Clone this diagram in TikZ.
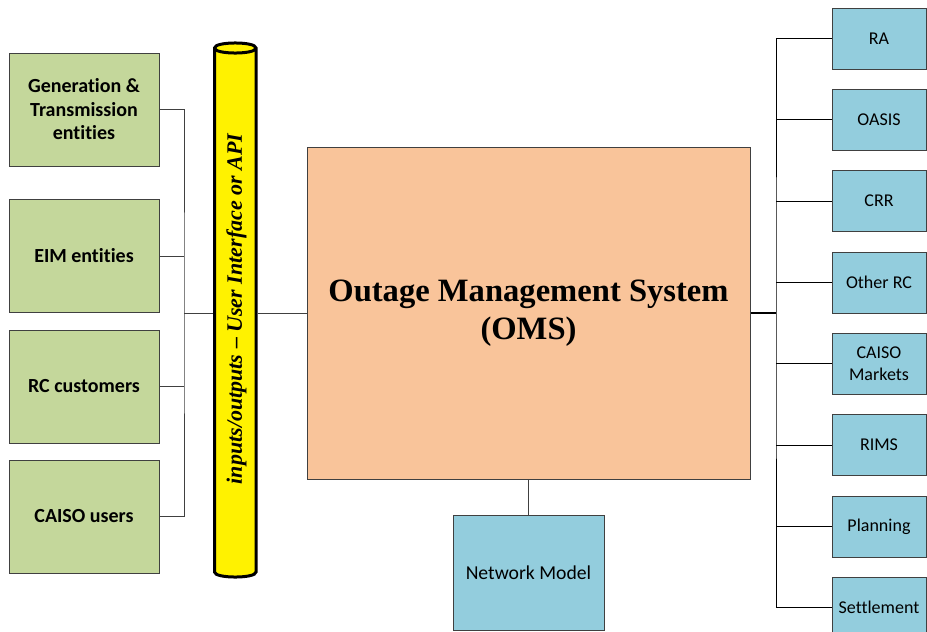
\documentclass[tikz,border=0pt]{standalone}
\usepackage{fontspec}
\setmainfont{Liberation Serif}
\newfontfamily\calfont[Ligatures=NoCommon]{Carlito}
\definecolor{gbox}{HTML}{C4D79B}
\definecolor{bbox}{HTML}{93CDDD}
\definecolor{pbox}{HTML}{F9C49A}
\definecolor{edge}{HTML}{404040}
\tikzset{
  greenbox/.style={draw=edge, line width=1pt, fill=gbox, minimum width=150pt, minimum height=113pt, inner sep=0pt, align=center, font=\calfont\bfseries\fontsize{20}{23.5}\selectfont},
  bluebox/.style={draw=edge, line width=1pt, fill=bbox, minimum width=94pt, minimum height=61pt, inner sep=0pt, align=center, font=\calfont\fontsize{18}{21.5}\selectfont},
  conn/.style={draw=edge, line width=1pt},
  cyl/.style={draw=black, line width=3pt, fill=yellow},
}
\begin{document}
\begin{tikzpicture}[x=1pt,y=-1pt]
\useasboundingbox (0,0) rectangle (927,632);
% left boxes
\node[greenbox] (g1) at (84,109.5) {Generation \&\\Transmission\\entities};
\node[greenbox] (g2) at (84,256) {EIM entities};
\node[greenbox] (g3) at (84,386.5) {RC customers};
\node[greenbox] (g4) at (84,516.5) {CAISO users};
\coordinate (lb) at (184,313);
% cylinder
\filldraw[cyl] (214.5,48) -- (214.5,572) .. controls (214.5,578.7) and (256,578.7) .. (256,572) -- (256,48) .. controls (256,41.3) and (214.5,41.3) .. (214.5,48) -- cycle;
\draw[cyl] (214.5,48) .. controls (214.5,54.7) and (256,54.7) .. (256,48);
\node[rotate=90, inner sep=0pt, font=\bfseries\itshape\fontsize{22}{26}\selectfont] (io) at (236.5,309) {inputs/outputs -- User Interface or API};
\coordinate (cylL) at (213,313);
\coordinate (cylR) at (257.5,313);
% OMS
\node[draw=edge, line width=1pt, fill=pbox, minimum width=443pt, minimum height=332pt, inner sep=0pt, align=center, font=\bfseries\fontsize{32.6}{38}\selectfont] (oms) at (528.5,313) {Outage Management System\\(OMS)};
\node[bluebox, minimum width=151pt, minimum height=115pt, font=\calfont\fontsize{19.7}{23}\selectfont] (nm) at (528.5,573) {Network Model};
% right boxes
\node[bluebox] (r1) at (879,38.5) {RA};
\node[bluebox] (r2) at (879,119.5) {OASIS};
\node[bluebox] (r3) at (879,201) {CRR};
\node[bluebox] (r4) at (879,282.5) {Other RC};
\node[bluebox] (r5) at (879,363.5) {CAISO\\Markets};
\node[bluebox] (r6) at (879,445) {RIMS};
\node[bluebox] (r7) at (879,526.5) {Planning};
\node[bluebox] (r8) at (879,607.5) {Settlement};
\coordinate (rb) at (776,313);
% connectors left
\draw[conn] (g1.east) -| (lb) |- (g4.east);
\draw[conn] (g2.east) -- (g2.east -| lb);
\draw[conn] (g3.east) -- (g3.east -| lb);
\draw[conn] (lb) -- (cylL);
\draw[conn] (cylR) -- (oms.west);
\draw[conn] (oms.south) -- (nm.north);
% connectors right
\draw[conn, draw=black, line width=2pt] (oms.east) -- (rb);
\draw[conn, draw=black] (r1.west) -| (rb) |- (r8.west);
\foreach \i in {2,...,7} {\draw[conn, draw=black] (r\i.west) -- (r\i.west -| rb);}
\end{tikzpicture}
\end{document}
